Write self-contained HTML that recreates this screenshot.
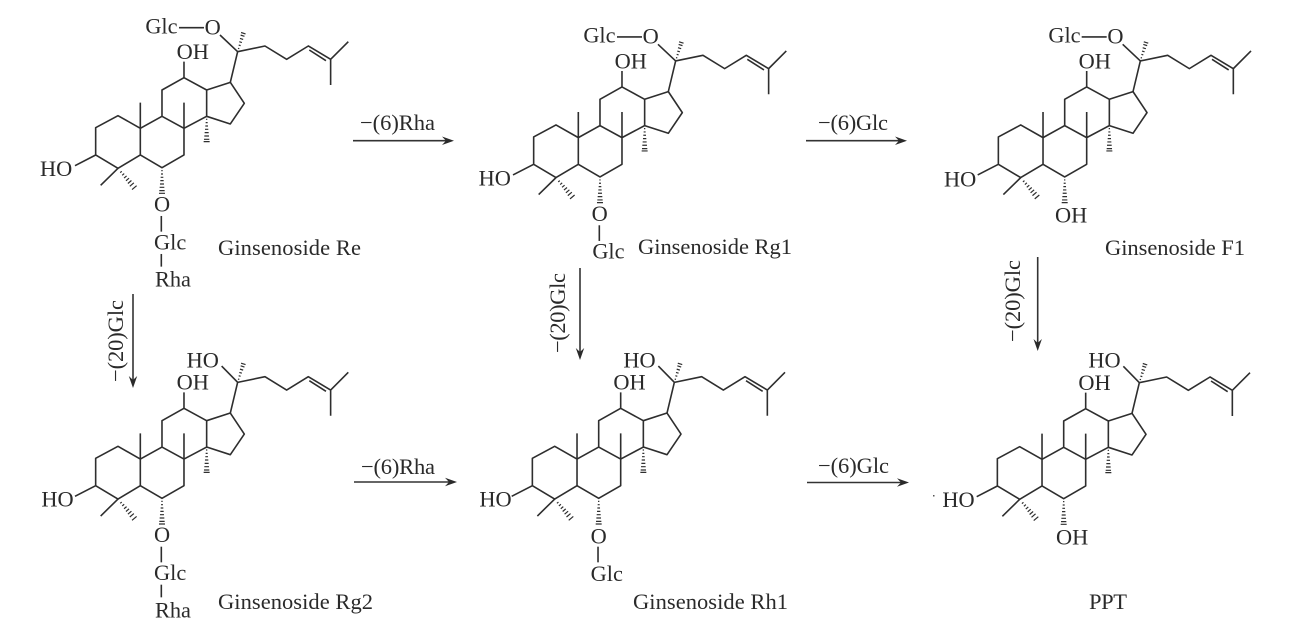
<!DOCTYPE html>
<html><head><meta charset="utf-8"><style>
html,body{margin:0;padding:0;background:#fff;width:1297px;height:636px;overflow:hidden}
svg{display:block}
text{font-family:"Liberation Serif",serif;fill:#2a2a2a}
.m text{font-size:67px}
.l{font-size:22.5px}
.a{stroke:#333;stroke-width:1.6;fill:none}
.h{fill:#2a2a2a}
</style></head><body>
<svg width="1297" height="636" viewBox="0 0 1297 636" xmlns="http://www.w3.org/2000/svg">
<defs>
<g id="sk" fill="none" stroke="#2e2e2e" stroke-width="4.8" stroke-linejoin="round">
<path d="M135 497L197 465V383L264 347L331 385V465L264 505L197 465"/>
<path d="M264 505L212 556M331 465L396 503L462 465V385M331 385L396 349L462 385M396 349V270L462 233L530 270V349L462 385" />
<path d="M530 270L601 247L643 310L601 372L530 349"/>
<path d="M331 385V308M462 385V308M462 233V185"/>
<path d="M601 247L623 155L705 138L770 178L835 138L902 178L955 125M902 178V255M838 150L888 182"/>
<path stroke-width="3.6" d="M528 358H532M527 368H533M526 378H534M525 388H535M524 398H536M523 408H537M522 418H538M521 425H539"/>
<path stroke-width="3.6" d="M394 512H398M393 522H399M392 532H400M391 542H401M390 552H402M389 562H403M388 572H404M387 580H405"/>
<path stroke-width="3.6" d="M270.7 517.9L275.3 514.1M276.6 525.9L282.6 520.7M282.2 534.2L289.8 527.8M287.9 542.4L297.1 534.6M293.7 550.5L304.3 541.5M299.4 559L311.6 548.6M306.1 568.8L319.9 557.2"/>
<path stroke-width="3.6" d="M624 145L628 146M626.1 135.1L631.9 136.9M628 125.2L635.7 127.6M630 115.3L639.6 118.3M632 105.4L643.5 109M633.3 97.5L646.7 101.7"/>
</g>
<path id="gb" fill="none" stroke="#2e2e2e" stroke-width="4.8" d="M447 83H522M570 105L623 155"/>
<path id="hb" fill="none" stroke="#2e2e2e" stroke-width="4.8" d="M575 106L623 155"/>
<path id="ob" fill="none" stroke="#2e2e2e" stroke-width="4.8" d="M394 648V695"/>
<path id="rb" fill="none" stroke="#2e2e2e" stroke-width="4.8" d="M394 762V800"/>
</defs>

<g class="m" transform="translate(30,0) scale(.3333)">
<use href="#sk"/><use href="#gb"/><use href="#ob"/><use href="#rb"/>
<text x="346" y="100">Glc</text><text x="524" y="103">O</text><text x="440" y="177">OH</text><text x="30" y="528">HO</text>
<text x="372" y="635">O</text><text x="372" y="748">Glc</text><text x="375" y="860">Rha</text>
</g>

<g class="m" transform="translate(30,330.7) scale(.3333)">
<use href="#sk"/><use href="#hb"/><use href="#ob"/><use href="#rb"/>
<text x="470" y="111">HO</text><text x="440" y="177">OH</text><text x="34" y="528">HO</text>
<text x="372" y="634">O</text><text x="372" y="748">Glc</text><text x="375" y="861">Rha</text>
</g>

<g class="m" transform="translate(468,9.3) scale(.3333)">
<use href="#sk"/><use href="#gb"/><use href="#ob"/>
<text x="346" y="100">Glc</text><text x="524" y="103">O</text><text x="440" y="177">OH</text><text x="32" y="528">HO</text>
<text x="371" y="635">O</text><text x="373" y="747">Glc</text>
</g>

<g class="m" transform="translate(932.7,9.3) scale(.3333)">
<use href="#sk"/><use href="#gb"/>
<text x="347" y="100">Glc</text><text x="524" y="103">O</text><text x="438" y="177">OH</text><text x="34" y="532">HO</text>
<text x="367" y="639">OH</text>
</g>

<g class="m" transform="translate(466.7,330.7) scale(.3333)">
<use href="#sk"/><use href="#hb"/><use href="#ob"/>
<text x="470" y="111">HO</text><text x="440" y="177">OH</text><text x="38" y="528">HO</text>
<text x="372" y="638">O</text><text x="372" y="751">Glc</text>
</g>

<g class="m" transform="translate(931.7,331) scale(.3333)">
<use href="#sk"/><use href="#hb"/>
<text x="470" y="110">HO</text><text x="440" y="177">OH</text><text x="32" y="528">HO</text>
<text x="373" y="640">OH</text>
</g>

<rect x="933" y="495" width="1.5" height="1.5" fill="#555"/>

<text class="l" x="218" y="255" textLength="143">Ginsenoside Re</text>
<text class="l" x="638" y="254" textLength="154">Ginsenoside Rg1</text>
<text class="l" x="1105" y="255" textLength="140">Ginsenoside F1</text>
<text class="l" x="218" y="609" textLength="155">Ginsenoside Rg2</text>
<text class="l" x="633" y="609" textLength="155">Ginsenoside Rh1</text>
<text class="l" x="1089" y="609" textLength="38">PPT</text>

<path class="a" d="M353 140.7H448"/><path class="h" d="M454 140.7L442 136.5L446 140.7L442 145Z"/>
<text class="l" x="360" y="130" textLength="75">−(6)Rha</text>
<path class="a" d="M806 140.7H901"/><path class="h" d="M907 140.7L895 136.5L899 140.7L895 145Z"/>
<text class="l" x="818" y="130" textLength="70">−(6)Glc</text>
<path class="a" d="M354 482H451"/><path class="h" d="M457 482L445 477.8L449 482L445 486.3Z"/>
<text class="l" x="361" y="474" textLength="74">−(6)Rha</text>
<path class="a" d="M807 482.5H903"/><path class="h" d="M909 482.5L897 478.3L901 482.5L897 486.8Z"/>
<text class="l" x="818" y="473" textLength="71">−(6)Glc</text>

<path class="a" d="M133 294V382"/><path class="h" d="M133 388L128.8 376L133 380L137.2 376Z"/>
<text class="l" transform="translate(123,382) rotate(-90)" textLength="82">−(20)Glc</text>
<path class="a" d="M580 268V354"/><path class="h" d="M580 360L575.8 348L580 352L584.2 348Z"/>
<text class="l" transform="translate(565,353) rotate(-90)" textLength="80">−(20)Glc</text>
<path class="a" d="M1037.7 257V345"/><path class="h" d="M1037.7 351L1033.5 339L1037.7 343L1041.9 339Z"/>
<text class="l" transform="translate(1020,342) rotate(-90)" textLength="82">−(20)Glc</text>
</svg>
</body></html>
